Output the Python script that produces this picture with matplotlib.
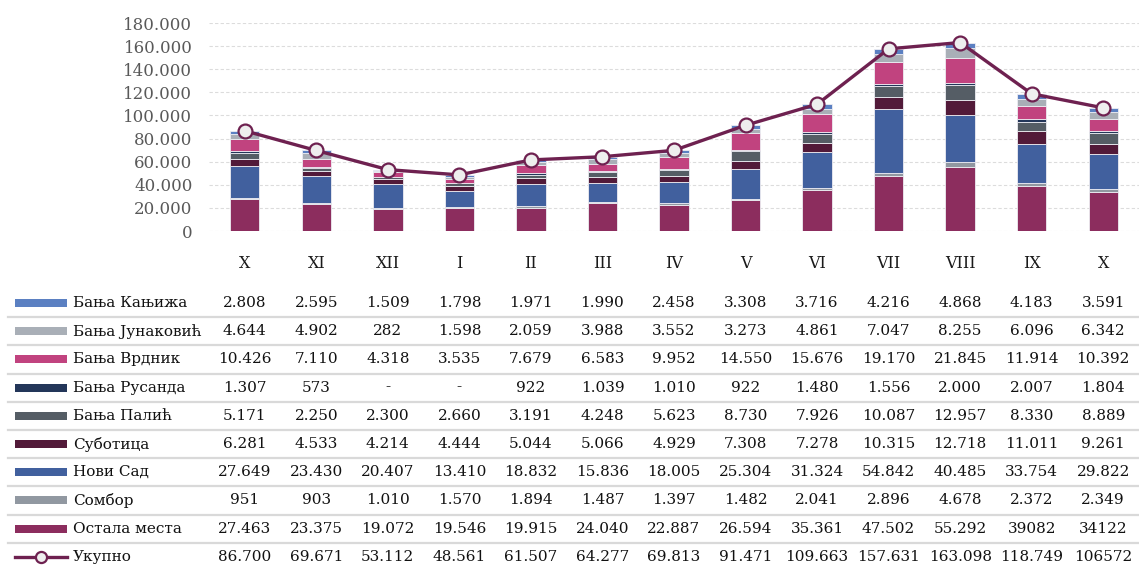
import matplotlib.pyplot as plt
import matplotlib.transforms as mtransforms
from matplotlib.patches import Rectangle
from matplotlib.lines import Line2D
from matplotlib.ticker import FuncFormatter

plt.rcParams['font.family'] = ['DejaVu Serif']

months = ['X', 'XI', 'XII', 'I', 'II', 'III', 'IV', 'V', 'VI', 'VII', 'VIII', 'IX', 'X']

# table rows, top to bottom, as printed under the chart
kanjiza = ['2.808', '2.595', '1.509', '1.798', '1.971', '1.990', '2.458', '3.308', '3.716', '4.216', '4.868', '4.183', '3.591']
junakovic = ['4.644', '4.902', '282', '1.598', '2.059', '3.988', '3.552', '3.273', '4.861', '7.047', '8.255', '6.096', '6.342']
vrdnik = ['10.426', '7.110', '4.318', '3.535', '7.679', '6.583', '9.952', '14.550', '15.676', '19.170', '21.845', '11.914', '10.392']
rusanda = ['1.307', '573', '-', '-', '922', '1.039', '1.010', '922', '1.480', '1.556', '2.000', '2.007', '1.804']
palic = ['5.171', '2.250', '2.300', '2.660', '3.191', '4.248', '5.623', '8.730', '7.926', '10.087', '12.957', '8.330', '8.889']
subotica = ['6.281', '4.533', '4.214', '4.444', '5.044', '5.066', '4.929', '7.308', '7.278', '10.315', '12.718', '11.011', '9.261']
novi_sad = ['27.649', '23.430', '20.407', '13.410', '18.832', '15.836', '18.005', '25.304', '31.324', '54.842', '40.485', '33.754', '29.822']
sombor = ['951', '903', '1.010', '1.570', '1.894', '1.487', '1.397', '1.482', '2.041', '2.896', '4.678', '2.372', '2.349']
ostala = ['27.463', '23.375', '19.072', '19.546', '19.915', '24.040', '22.887', '26.594', '35.361', '47.502', '55.292', '39082', '34122']
ukupno = ['86.700', '69.671', '53.112', '48.561', '61.507', '64.277', '69.813', '91.471', '109.663', '157.631', '163.098', '118.749', '106572']

names = ['Бања Кањижа', 'Бања Јунаковић', 'Бања Врдник', 'Бања Русанда', 'Бања Палић',
         'Суботица', 'Нови Сад', 'Сомбор', 'Остала места']
rows = [kanjiza, junakovic, vrdnik, rusanda, palic, subotica, novi_sad, sombor, ostala]
colors = ['#5B80C2', '#A9AFB7', '#C1437F', '#233659', '#555D65',
          '#521A39', '#41609E', '#9198A1', '#8C2D5E']
line_color = '#6E2150'


def num(s):
    if s.strip() == '-':
        return 0.0
    return float(s.replace('.', ''))


W, H = 1139, 566
fig = plt.figure(figsize=(W / 100, H / 100), dpi=100)
ax = fig.add_axes([209 / W, (H - 231) / H, 930 / W, 208 / H])

x = list(range(len(months)))
bottom = [0.0] * len(months)
# stack from bottom (last table row) upward
for name, row, c in reversed(list(zip(names, rows, colors))):
    vals = [num(v) for v in row]
    ax.bar(x, vals, 0.41, bottom=bottom, color=c, edgecolor='#EDEDF2', linewidth=0.6, zorder=2)
    bottom = [b + v for b, v in zip(bottom, vals)]

tot = [num(v) for v in ukupno]
ax.plot(x, tot, color=line_color, lw=2.4, marker='o', ms=10, mfc='#EEEEEE', mec=line_color, mew=1.6, zorder=3)

ax.set_xlim(-0.5, len(months) - 0.5)
ax.set_ylim(0, 180000)
ax.set_yticks(range(0, 180001, 20000))
ax.yaxis.set_major_formatter(FuncFormatter(lambda v, p: f'{int(v):,}'.replace(',', '.')))
ax.set_xticks(x)
ax.set_xticklabels(months)
ax.tick_params(axis='y', length=0, pad=12, labelsize=12, labelcolor='#595959')
ax.tick_params(axis='x', length=0, pad=17, labelsize=11.5, labelcolor='#1a1a1a')
ax.grid(axis='y', color='#DCDCDC', linestyle=(0, (3, 2)), lw=0.8, zorder=0)
for s in ax.spines.values():
    s.set_visible(False)

# data table below the chart
tab = fig.add_axes([0, 0, 1, 1], zorder=-1)
tab.set_xlim(0, W)
tab.set_ylim(H, 0)
tab.axis('off')
trans = mtransforms.blended_transform_factory(ax.transData, tab.transData)

all_names = names + ['Укупно']
all_rows = rows + [ukupno]
y0, dy = 303, 28.2
for i, (name, row) in enumerate(zip(all_names, all_rows)):
    y = y0 + i * dy
    if i < len(names):
        tab.add_patch(Rectangle((15, y - 4), 52, 8, color=colors[i], lw=0))
    else:
        tab.add_line(Line2D([15, 67], [y, y], color=line_color, lw=2.4))
        tab.plot([41], [y], marker='o', ms=8, mfc='#EEEEEE', mec=line_color, mew=1.6)
    tab.text(73, y, name, fontsize=11, va='center', ha='left', color='#111111')
    for j, s in enumerate(row):
        tab.text(j, y, s, fontsize=11, va='center', ha='center', color='#111111', transform=trans)
    if i < len(all_names) - 1:
        tab.add_line(Line2D([8, W], [y + dy / 2, y + dy / 2], color='#D9D9D9', lw=1.6))

fig.savefig('out.png', dpi=100)
